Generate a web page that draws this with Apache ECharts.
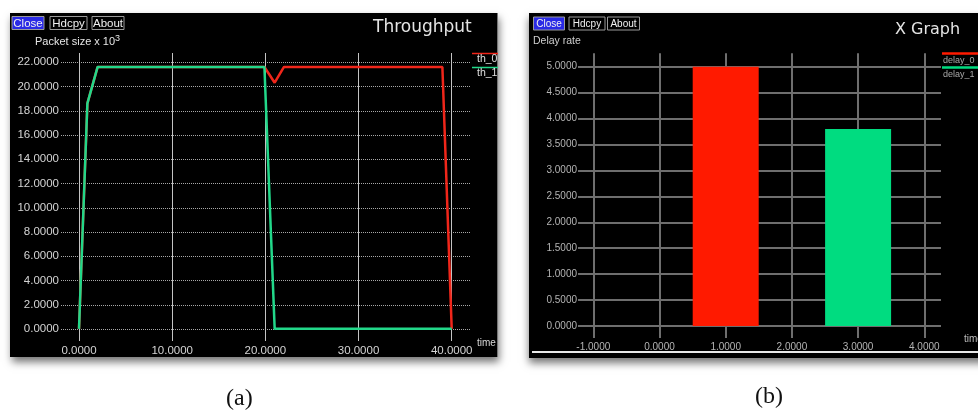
<!DOCTYPE html>
<html>
<head>
<meta charset="utf-8">
<script src="https://cdn.jsdelivr.net/npm/echarts@6/dist/echarts.min.js"></script>
<style>
html,body{margin:0;padding:0;background:#fff;}
#c{width:978px;height:412px;}
</style>
</head>
<body>
<div id="c"></div>
<script>
// Panel (a): Throughput
const th0Time = [0, 0.9, 2.0, 19.9, 21.0, 22.0, 39.0, 40.0];
const th0Val  = [0, 18.6, 21.6, 21.6, 20.3, 21.6, 21.6, 0];
const th1Time = [0, 0.9, 2.0, 19.9, 21.0, 40.0];
const th1Val  = [0, 18.6, 21.6, 21.6, 0, 0];
const seriesNamesA = ['th_0', 'th_1'];
// Panel (b): Delay rate
const delayX = [1, 3];
const delayVal = [5.0, 3.8];
const seriesNamesB = ['delay_0', 'delay_1'];

const RED = '#f0261a';
const GREEN = '#22d88a';
const RED_B = '#ff1a00';
const GREEN_B = '#00dc80';
const fmt4 = v => v.toFixed(4);
const pairs = (xs, ys) => xs.map((x, i) => [x, ys[i]]);

const chart = echarts.init(document.getElementById('c'), null, {renderer: 'canvas'});

function button(x, y, w, h, label, fs, blue) {
  return [
    {type: 'rect', z: 5, shape: {x: x, y: y, width: w, height: h},
     style: {fill: blue ? '#2a2ae6' : '#000', stroke: '#9a9a9a', lineWidth: 1}},
    {type: 'text', z: 6, style: {x: x + w / 2, y: y + h / 2 + 0.5, text: label, fill: '#f0f0f0',
      font: fs + 'px "Liberation Sans", Arial, sans-serif', textAlign: 'center', textVerticalAlign: 'middle'}}
  ];
}

const graphics = [].concat(
  [
    // panel backgrounds
    {type: 'rect', z: -10, shape: {x: 10, y: 13, width: 487, height: 344},
     style: {fill: '#000', shadowBlur: 8, shadowOffsetY: 5, shadowOffsetX: 2, shadowColor: 'rgba(0,0,0,0.55)'}},
    {type: 'line', z: -9, shape: {x1: 497.5, y1: 13, x2: 497.5, y2: 357}, style: {stroke: '#777', lineWidth: 1}},
    {type: 'rect', z: -10, shape: {x: 529, y: 13, width: 460, height: 345},
     style: {fill: '#000', shadowBlur: 8, shadowOffsetY: 5, shadowColor: 'rgba(0,0,0,0.55)'}},
    {type: 'line', z: 5, shape: {x1: 532, y1: 352, x2: 978, y2: 352}, style: {stroke: '#e8e8e8', lineWidth: 2}},
    // axis titles
    {type: 'text', z: 6, style: {x: 35, y: 42, text: 'Packet size x 10{s|3}', fill: '#e6e6e6',
      font: '11px "Liberation Sans", Arial, sans-serif', textVerticalAlign: 'middle',
      rich: {s: {fontSize: 9, verticalAlign: 'top', padding: [0, 0, 6, 0], fill: '#e6e6e6'}}}},
    {type: 'text', z: 6, style: {x: 477, y: 343, text: 'time', fill: '#d8d8d8',
      font: '10px "Liberation Sans", Arial, sans-serif', textVerticalAlign: 'middle'}},
    {type: 'text', z: 6, style: {x: 533, y: 41, text: 'Delay rate', fill: '#cfcfcf',
      font: '10.5px "Liberation Sans", Arial, sans-serif', textVerticalAlign: 'middle'}},
    {type: 'text', z: 6, style: {x: 964, y: 339, text: 'time', fill: '#bdbdbd',
      font: '10px "Liberation Sans", Arial, sans-serif', textVerticalAlign: 'middle'}},
    // legend (a)
    {type: 'line', z: 6, shape: {x1: 472, y1: 53.5, x2: 498, y2: 53.5}, style: {stroke: RED, lineWidth: 1.5}},
    {type: 'text', z: 6, style: {x: 477, y: 59.5, text: seriesNamesA[0], fill: '#e0e0e0',
      font: '10.5px "Liberation Sans", Arial, sans-serif', textVerticalAlign: 'middle'}},
    {type: 'line', z: 6, shape: {x1: 472, y1: 67.5, x2: 498, y2: 67.5}, style: {stroke: GREEN, lineWidth: 1.5}},
    {type: 'text', z: 6, style: {x: 477, y: 73, text: seriesNamesA[1], fill: '#e0e0e0',
      font: '10.5px "Liberation Sans", Arial, sans-serif', textVerticalAlign: 'middle'}},
    // legend (b)
    {type: 'line', z: 6, shape: {x1: 942, y1: 53.5, x2: 978, y2: 53.5}, style: {stroke: RED_B, lineWidth: 2.5}},
    {type: 'text', z: 6, style: {x: 943, y: 60.5, text: seriesNamesB[0], fill: '#a8a8a8',
      font: '9px "Liberation Sans", Arial, sans-serif', textVerticalAlign: 'middle'}},
    {type: 'line', z: 6, shape: {x1: 942, y1: 67.5, x2: 978, y2: 67.5}, style: {stroke: GREEN_B, lineWidth: 2.5}},
    {type: 'text', z: 6, style: {x: 943, y: 74.5, text: seriesNamesB[1], fill: '#a8a8a8',
      font: '9px "Liberation Sans", Arial, sans-serif', textVerticalAlign: 'middle'}}
  ],
  button(12, 16.5, 32, 13, 'Close', 11.5, true),
  button(50, 16.5, 37, 13, 'Hdcpy', 11.5, false),
  button(92, 16.5, 32, 13, 'About', 11.5, false),
  button(533.5, 17, 31, 13, 'Close', 10, true),
  button(569, 17, 36, 13, 'Hdcpy', 10, false),
  button(607.5, 17, 32, 13, 'About', 10, false)
);

const option = {
  backgroundColor: '#ffffff',
  animation: false,
  title: [
    {text: 'Throughput', left: 368, top: 14, textStyle: {color: '#e4e4e4', fontSize: 17, fontWeight: 'normal', fontFamily: 'DejaVu Sans'}},
    {text: 'X Graph', left: 890, top: 17, textStyle: {color: '#e4e4e4', fontSize: 16, fontWeight: 'normal', fontFamily: 'DejaVu Sans'}},
    {text: '(a)', left: 221, top: 382, textStyle: {color: '#111', fontSize: 24, fontWeight: 'normal', fontFamily: '"Liberation Serif", "Times New Roman", serif'}},
    {text: '(b)', left: 750, top: 380, textStyle: {color: '#111', fontSize: 24, fontWeight: 'normal', fontFamily: '"Liberation Serif", "Times New Roman", serif'}}
  ],
  grid: [
    {left: 61, right: 978 - 471, top: 62.3, bottom: 412 - 329, outerBoundsMode: 'none'},
    {left: 79, right: 978 - 451.7, top: 53, bottom: 412 - 341, outerBoundsMode: 'none'},
    {left: 578, right: 978 - 941, top: 66.7, bottom: 412 - 326, outerBoundsMode: 'none'},
    {left: 593.3, right: 978 - 924.3, top: 53.3, bottom: 412 - 338, outerBoundsMode: 'none'}
  ],
  xAxis: [
    {gridIndex: 0, type: 'value', show: false, min: 0, max: 1},
    {gridIndex: 1, type: 'value', min: 0, max: 40, interval: 10,
     axisLine: {show: false}, axisTick: {show: false},
     splitLine: {show: true, lineStyle: {color: '#c4c4c4', width: 1}},
     axisLabel: {formatter: fmt4, color: '#d4d4d4', fontSize: 11.5, margin: 4, fontFamily: '"Liberation Sans", Arial, sans-serif'}},
    {gridIndex: 2, type: 'value', show: false, min: 0, max: 1},
    {gridIndex: 3, type: 'value', min: -1, max: 4, interval: 1,
     axisLine: {show: false}, axisTick: {show: false},
     splitLine: {show: true, lineStyle: {color: '#6e6e6e', width: 2}},
     axisLabel: {formatter: fmt4, color: '#b4b4b4', fontSize: 10, margin: 4, fontFamily: '"Liberation Sans", Arial, sans-serif'}}
  ],
  yAxis: [
    {gridIndex: 0, type: 'value', min: 0, max: 22, interval: 2,
     axisLine: {show: false}, axisTick: {show: false},
     splitLine: {show: true, lineStyle: {color: '#a8a8a8', width: 1, type: [1, 1]}},
     axisLabel: {formatter: fmt4, color: '#d4d4d4', fontSize: 11.5, margin: 2, fontFamily: '"Liberation Sans", Arial, sans-serif'}},
    {gridIndex: 1, type: 'value', show: false, min: -1, max: 22.75},
    {gridIndex: 2, type: 'value', min: 0, max: 5, interval: 0.5,
     axisLine: {show: false}, axisTick: {show: false},
     splitLine: {show: true, lineStyle: {color: '#6e6e6e', width: 2}},
     axisLabel: {formatter: fmt4, color: '#b4b4b4', fontSize: 10, margin: 1, fontFamily: '"Liberation Sans", Arial, sans-serif'}},
    {gridIndex: 3, type: 'value', show: false, min: -0.231, max: 5.258}
  ],
  series: [
    {name: seriesNamesA[0], type: 'line', xAxisIndex: 1, yAxisIndex: 1, data: pairs(th0Time, th0Val),
     showSymbol: false, symbol: 'none', lineStyle: {color: RED, width: 2.5}, z: 3},
    {name: seriesNamesA[1], type: 'line', xAxisIndex: 1, yAxisIndex: 1, data: pairs(th1Time, th1Val),
     showSymbol: false, symbol: 'none', lineStyle: {color: GREEN, width: 2.5}, z: 4},
    {name: seriesNamesB[0], type: 'bar', xAxisIndex: 3, yAxisIndex: 3, data: [[delayX[0], delayVal[0]]],
     barWidth: 66, barGap: '-100%', itemStyle: {color: RED_B}, z: 3},
    {name: seriesNamesB[1], type: 'bar', xAxisIndex: 3, yAxisIndex: 3, data: [[delayX[1], delayVal[1]]],
     barWidth: 66, barGap: '-100%', itemStyle: {color: GREEN_B}, z: 3}
  ],
  graphic: {elements: graphics}
};
chart.setOption(option);
</script>
</body>
</html>
